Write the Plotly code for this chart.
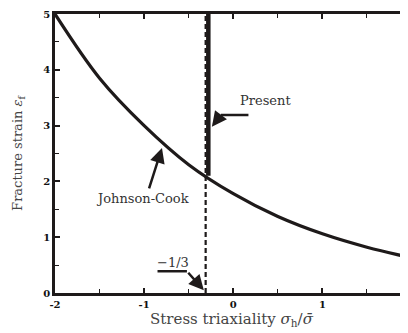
import plotly.graph_objects as go

# Johnson-Cook fracture strain curve
jc_x = [-2.0, -1.5, -1.0, -0.5, 0.0, 0.5, 1.0, 1.5, 2.0]
jc_y = [5.0, 3.85, 3.0, 2.3, 1.78, 1.37, 1.06, 0.82, 0.63]

# Present model: vertical cut-off at triaxiality -1/3
present_x = [-0.28, -0.28]
present_y = [2.1, 5.0]
cutoff_x = [-0.31, -0.31]
cutoff_y = [0.0, 5.0]

x_ticks = [-2, -1, 0, 1]
x_tick_labels = ["-2", "-1", "0", "1"]
y_ticks = [0, 1, 2, 3, 4, 5]
y_tick_labels = ["0", "1", "2", "3", "4", "5"]

INK = "#1e1a1a"
SERIF = "DejaVu Serif, Liberation Serif, serif"

fig = go.Figure()
fig.add_trace(go.Scatter(x=cutoff_x, y=cutoff_y, mode="lines",
                         line=dict(color=INK, width=2.2, dash="5px,3px"),
                         showlegend=False, hoverinfo="skip"))
fig.add_trace(go.Scatter(x=present_x, y=present_y, mode="lines",
                         line=dict(color=INK, width=4.5),
                         showlegend=False, hoverinfo="skip"))
fig.add_trace(go.Scatter(x=jc_x, y=jc_y, mode="lines",
                         line=dict(color=INK, width=3.2, shape="spline"),
                         showlegend=False, hoverinfo="skip"))

# bent leader lines (horizontal parts)
fig.add_shape(type="line", x0=-0.14, y0=3.19, x1=0.17, y1=3.19,
              line=dict(color=INK, width=2.5))
fig.add_shape(type="line", x0=-0.85, y0=0.39, x1=-0.52, y1=0.39,
              line=dict(color=INK, width=2.5))

fig.add_annotation(x=-0.24, y=2.98, ax=-0.14, ay=3.19, xref="x", yref="y",
                   axref="x", ayref="y", showarrow=True, arrowhead=2,
                   arrowsize=1.2, arrowwidth=2.5, arrowcolor=INK, text="")
fig.add_annotation(x=-0.33, y=0.05, ax=-0.52, ay=0.39, xref="x", yref="y",
                   axref="x", ayref="y", showarrow=True, arrowhead=2,
                   arrowsize=1.2, arrowwidth=2.5, arrowcolor=INK, text="")
fig.add_annotation(x=-0.80, y=2.6, ax=-0.95, ay=1.85, xref="x", yref="y",
                   axref="x", ayref="y", showarrow=True, arrowhead=2,
                   arrowsize=1.2, arrowwidth=2.5, arrowcolor=INK, text="")

fig.add_annotation(x=0.36, y=3.45, xref="x", yref="y", text="Present",
                   showarrow=False, font=dict(family=SERIF, size=13, color="#333"))
fig.add_annotation(x=-1.02, y=1.69, xref="x", yref="y", text="Johnson-Cook",
                   showarrow=False, font=dict(family=SERIF, size=13, color="#333"))
fig.add_annotation(x=-0.68, y=0.55, xref="x", yref="y", text="−1/3",
                   showarrow=False, font=dict(family=SERIF, size=13, color="#333"))

fig.update_layout(
    width=400, height=325,
    margin=dict(l=47, r=0, t=4, b=40),
    paper_bgcolor="white", plot_bgcolor="white",
    font=dict(family=SERIF, color="#333"),
    xaxis=dict(range=[-2, 1.96], tickvals=x_ticks, ticktext=x_tick_labels,
               ticks="inside", ticklen=5, tickwidth=1.5, tickcolor=INK,
               showline=True, linecolor=INK, linewidth=2.5, mirror="ticks",
               showgrid=False, zeroline=False, ticklabeloverflow="allow",
               tickfont=dict(family=SERIF, size=10, color="#111", weight="bold"),
               minor=dict(dtick=0.5, tick0=0, ticks="inside", ticklen=4,
                          tickcolor=INK, tickwidth=1.2),
               title=dict(text="Stress triaxiality <i>σ</i><sub>h</sub>/<i>σ̄</i>",
                          font=dict(family=SERIF, size=15, color="#444"), standoff=2)),
    yaxis=dict(range=[0, 5], tickvals=y_ticks, ticktext=y_tick_labels,
               ticks="inside", ticklen=5, tickwidth=1.5, tickcolor=INK,
               showline=True, linecolor=INK, linewidth=2.5, mirror=False,
               showgrid=False, zeroline=False, ticklabeloverflow="allow",
               tickfont=dict(family=SERIF, size=10, color="#111", weight="bold"),
               minor=dict(dtick=0.5, tick0=0, ticks="inside", ticklen=4,
                          tickcolor=INK, tickwidth=1.2),
               title=dict(text="Fracture strain <i>ε</i><sub>f</sub>",
                          font=dict(family=SERIF, size=13, color="#444"), standoff=18)),
)

fig.write_html("out.html")
